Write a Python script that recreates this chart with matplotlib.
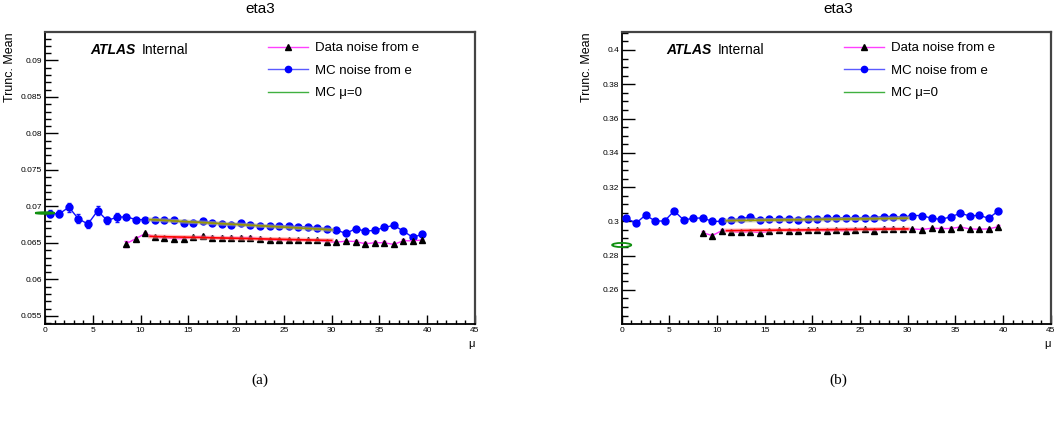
import numpy as np
import matplotlib.pyplot as plt
from matplotlib.patches import Ellipse
from matplotlib.lines import Line2D
from matplotlib.ticker import MultipleLocator, FormatStrFormatter

plt.rcParams['font.family'] = ['Liberation Sans', 'DejaVu Sans']

# bin centres in mu
mu_mc = np.arange(0, 40) + 0.5
mu_data = np.arange(8, 40) + 0.5

# ---- panel (a) ----
mc_a = [0.0690, 0.0690, 0.0699, 0.0683, 0.0676, 0.0694, 0.0681, 0.0685, 0.0686, 0.0682,
        0.0682, 0.0682, 0.0682, 0.0682, 0.0677, 0.0678, 0.0680, 0.0678, 0.0676, 0.0675,
        0.0677, 0.06745, 0.06736, 0.06736, 0.06731, 0.06731, 0.06722, 0.06722, 0.06708, 0.06695,
        0.06676, 0.06631, 0.06695, 0.06663, 0.06672, 0.06713, 0.06741, 0.06663, 0.06576, 0.06621]
mc_a_err = [0.0005, 0.0005, 0.0006, 0.0006, 0.0005, 0.0006, 0.0005, 0.0006] + [0.0002] * 32
data_a = [0.0649, 0.0656, 0.0663, 0.0658, 0.0657, 0.0656, 0.0656, 0.0658, 0.0659, 0.0657,
          0.0657, 0.0657, 0.0657, 0.06571, 0.06557, 0.06539, 0.06539, 0.06539, 0.06539, 0.06539,
          0.06535, 0.06516, 0.06511, 0.06525, 0.0652, 0.06489, 0.06503, 0.06503, 0.0648, 0.0653,
          0.0653, 0.0654]
data_a_err = [0.0004] + [0.0002] * 31
mc0_a = [0.0, 0.0691]        # mu, value
fit_range = [11.0, 30.0]
fit_data_a = [0.0659, 0.06535]
fit_mc_a = [0.0682, 0.0668]

# ---- panel (b) ----
mc_b = [0.3018, 0.2989, 0.3037, 0.3002, 0.3002, 0.3061, 0.3008, 0.3018, 0.3020, 0.3000,
        0.3000, 0.3008, 0.3016, 0.3024, 0.3010, 0.3014, 0.3016, 0.3016, 0.3010, 0.3014,
        0.3014, 0.3020, 0.3020, 0.3022, 0.3020, 0.3022, 0.3022, 0.3028, 0.3028, 0.3024,
        0.3034, 0.3034, 0.3018, 0.3012, 0.3026, 0.3047, 0.3032, 0.3035, 0.3018, 0.3061]
mc_b_err = [0.0008] * 40
data_b = [0.2934, 0.2917, 0.2946, 0.2940, 0.2936, 0.2940, 0.2934, 0.2942, 0.2950, 0.2946,
          0.2942, 0.2950, 0.2950, 0.2944, 0.2948, 0.2944, 0.2950, 0.2956, 0.2944, 0.2958,
          0.2958, 0.2954, 0.2956, 0.2952, 0.2960, 0.2958, 0.2958, 0.2967, 0.2956, 0.2954,
          0.2956, 0.2969]
data_b_err = [0.0008] * 32
mc0_b = [0.0, 0.2862]
fit_data_b = [0.2946, 0.2956]
fit_mc_b = [0.3004, 0.3018]


def draw_panel(ax, mc, mc_err, data, data_err, mc0, mc0_h, fit_d, fit_m,
               ylim, ymaj, ymin):
    ax.errorbar(mu_mc, mc, yerr=mc_err, color='#1010ff', marker='o', ms=5,
                mec='#0000ff', mfc='#0000ff', lw=1.0, elinewidth=1.0, capsize=1.5, zorder=3)
    ax.errorbar(mu_data, data, yerr=data_err, color='#ff30ff', marker='^', ms=4.8,
                mec='k', mfc='k', lw=1.0, ecolor='#ff30ff', elinewidth=1.0, capsize=1.5, zorder=3)
    # fits
    ax.plot(fit_range, fit_d, color='#ff9090', lw=3.0, alpha=0.6, zorder=4)
    ax.plot(fit_range, fit_d, color='#ff0000', lw=1.2, zorder=4)
    ax.plot(fit_range, fit_m, color='#b8b880', lw=3.0, alpha=0.6, zorder=4)
    ax.plot(fit_range, fit_m, color='#999900', lw=1.2, zorder=4)
    # MC mu=0 reference point
    ax.add_patch(Ellipse((mc0[0], mc0[1]), width=2.0, height=mc0_h, fill=False,
                         ec='#109010', lw=1.3, clip_on=False, zorder=5))

    ax.set_xlim(0, 45)
    ax.set_ylim(*ylim)
    ax.xaxis.set_major_locator(MultipleLocator(5))
    ax.xaxis.set_minor_locator(MultipleLocator(1))
    ax.yaxis.set_major_locator(MultipleLocator(ymaj))
    ax.yaxis.set_minor_locator(MultipleLocator(ymin))
    ax.yaxis.set_major_formatter(FormatStrFormatter('%g'))
    ax.tick_params(axis='both', which='both', direction='in', top=False, right=False,
                   labelsize=6, width=1.0)
    ax.tick_params(axis='x', which='major', length=6.5, pad=2)
    ax.tick_params(axis='x', which='minor', length=3)
    ax.tick_params(axis='y', which='major', length=9.5, pad=2)
    ax.tick_params(axis='y', which='minor', length=4.5)
    for s in ['left', 'bottom']:
        ax.spines[s].set_linewidth(1.3)
        ax.spines[s].set_color('k')
    for s in ['top', 'right']:
        ax.spines[s].set_linewidth(1.6)
        ax.spines[s].set_color('#444444')

    ax.set_ylabel('Trunc. Mean', fontsize=9, loc='top')
    ax.yaxis.set_label_coords(-0.068, 1.0)
    ax.set_xlabel('\u03bc', fontsize=8, loc='right', labelpad=4)

    ax.text(0.105, 0.938, 'ATLAS', transform=ax.transAxes, fontsize=10,
            fontweight='bold', fontstyle='italic', va='center', ha='left')
    ax.text(0.224, 0.938, 'Internal', transform=ax.transAxes, fontsize=10,
            va='center', ha='left')

    handles = [
        Line2D([], [], color='#ff40ff', marker='^', ms=4, mfc='k', mec='k', lw=1.0),
        Line2D([], [], color='#5a5aff', marker='o', ms=4.5, mfc='#0000ff', mec='#0000ff', lw=1.0),
        Line2D([], [], color='#40b040', lw=1.0),
    ]
    labels = ['Data noise from e', 'MC noise from e', 'MC \u03bc=0']
    ax.legend(handles, labels, loc='upper left', bbox_to_anchor=(0.519, 0.966),
              frameon=False, fontsize=9.5, handlelength=3.0, handletextpad=0.55,
              labelspacing=0.78, borderpad=0.0, borderaxespad=0.0)


fig = plt.figure(figsize=(10.56, 4.32), dpi=100)
ax1 = fig.add_axes([45 / 1056, 108 / 432, 430 / 1056, 292 / 432])
ax2 = fig.add_axes([621.7 / 1056, 108 / 432, 429 / 1056, 292 / 432])

draw_panel(ax1, mc_a, mc_a_err, data_a, data_a_err, mc0_a, 0.00022,
           fit_data_a, fit_mc_a, (0.0539, 0.0939), 0.005, 0.001)
draw_panel(ax2, mc_b, mc_b_err, data_b, data_b_err, mc0_b, 0.0024,
           fit_data_b, fit_mc_b, (0.2401, 0.4105), 0.02, 0.005)

fig.text(260 / 1056, 1 - 9 / 432, 'eta3', fontsize=11, ha='center', va='center')
fig.text(838 / 1056, 1 - 9 / 432, 'eta3', fontsize=11, ha='center', va='center')
fig.text(260 / 1056, 1 - 380 / 432, '(a)', fontsize=11, ha='center', va='center',
         family='Liberation Serif')
fig.text(838 / 1056, 1 - 380 / 432, '(b)', fontsize=11, ha='center', va='center',
         family='Liberation Serif')

fig.savefig('out.png', dpi=100)
